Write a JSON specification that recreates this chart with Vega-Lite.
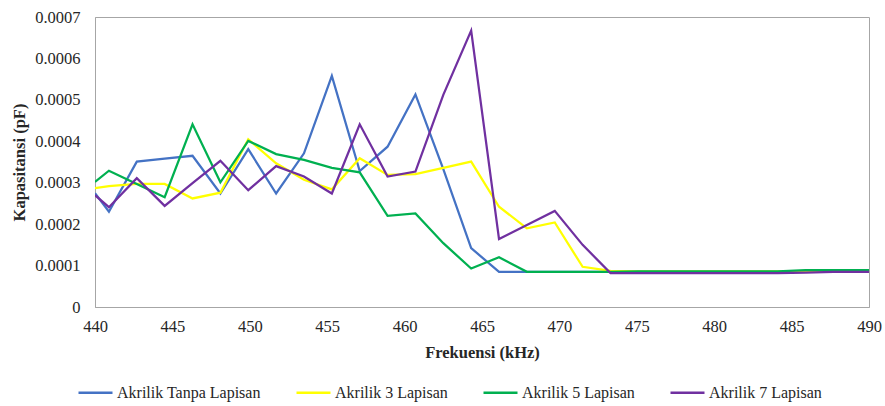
{
  "$schema": "https://vega.github.io/schema/vega-lite/v6.json",
  "width": 774,
  "height": 290,
  "autosize": {"type": "none"},
  "padding": {"left": 95, "top": 17, "right": 16, "bottom": 99},
  "background": "white",
  "config": {
    "font": "Liberation Serif, serif",
    "view": {"stroke": "#A6A6A6", "strokeWidth": 1},
    "style": {
      "guide-label": {"font": "Liberation Serif, serif", "fontSize": 16.5, "fill": "#262626"},
      "guide-title": {"font": "Liberation Serif, serif", "fontSize": 16.5, "fontWeight": "bold", "fill": "#262626"}
    },
    "axis": {
      "grid": false,
      "ticks": false,
      "labelFlush": false,
      "labelOverlap": false,
      "domainColor": "#A6A6A6"
    },
    "legend": {
      "labelFont": "Liberation Serif, serif",
      "labelFontSize": 16,
      "labelColor": "#262626"
    }
  },
  "data": {
    "values": [
      {"f": 440, "v": 0.000275, "s": "Akrilik Tanpa Lapisan"},
      {"f": 440.9, "v": 0.00023, "s": "Akrilik Tanpa Lapisan"},
      {"f": 442.7, "v": 0.000351, "s": "Akrilik Tanpa Lapisan"},
      {"f": 444.5, "v": 0.000358, "s": "Akrilik Tanpa Lapisan"},
      {"f": 446.3, "v": 0.000365, "s": "Akrilik Tanpa Lapisan"},
      {"f": 448.1, "v": 0.000274, "s": "Akrilik Tanpa Lapisan"},
      {"f": 449.9, "v": 0.000381, "s": "Akrilik Tanpa Lapisan"},
      {"f": 451.7, "v": 0.000274, "s": "Akrilik Tanpa Lapisan"},
      {"f": 453.5, "v": 0.000371, "s": "Akrilik Tanpa Lapisan"},
      {"f": 455.3, "v": 0.000558, "s": "Akrilik Tanpa Lapisan"},
      {"f": 457.1, "v": 0.000328, "s": "Akrilik Tanpa Lapisan"},
      {"f": 458.9, "v": 0.000387, "s": "Akrilik Tanpa Lapisan"},
      {"f": 460.7, "v": 0.000513, "s": "Akrilik Tanpa Lapisan"},
      {"f": 462.5, "v": 0.000333, "s": "Akrilik Tanpa Lapisan"},
      {"f": 464.3, "v": 0.000142, "s": "Akrilik Tanpa Lapisan"},
      {"f": 466.1, "v": 0.000085, "s": "Akrilik Tanpa Lapisan"},
      {"f": 467.9, "v": 0.000085, "s": "Akrilik Tanpa Lapisan"},
      {"f": 469.7, "v": 0.000085, "s": "Akrilik Tanpa Lapisan"},
      {"f": 471.5, "v": 0.000085, "s": "Akrilik Tanpa Lapisan"},
      {"f": 473.3, "v": 0.000085, "s": "Akrilik Tanpa Lapisan"},
      {"f": 475.1, "v": 0.000085, "s": "Akrilik Tanpa Lapisan"},
      {"f": 476.9, "v": 0.000085, "s": "Akrilik Tanpa Lapisan"},
      {"f": 478.7, "v": 0.000085, "s": "Akrilik Tanpa Lapisan"},
      {"f": 480.5, "v": 0.000085, "s": "Akrilik Tanpa Lapisan"},
      {"f": 482.3, "v": 0.000085, "s": "Akrilik Tanpa Lapisan"},
      {"f": 484.1, "v": 0.000085, "s": "Akrilik Tanpa Lapisan"},
      {"f": 485.9, "v": 0.000085, "s": "Akrilik Tanpa Lapisan"},
      {"f": 487.7, "v": 0.000086, "s": "Akrilik Tanpa Lapisan"},
      {"f": 489.5, "v": 0.000086, "s": "Akrilik Tanpa Lapisan"},
      {"f": 490, "v": 0.000086, "s": "Akrilik Tanpa Lapisan"},

      {"f": 440, "v": 0.000287, "s": "Akrilik 3 Lapisan"},
      {"f": 440.9, "v": 0.000292, "s": "Akrilik 3 Lapisan"},
      {"f": 442.7, "v": 0.000297, "s": "Akrilik 3 Lapisan"},
      {"f": 444.5, "v": 0.000297, "s": "Akrilik 3 Lapisan"},
      {"f": 446.3, "v": 0.000262, "s": "Akrilik 3 Lapisan"},
      {"f": 448.1, "v": 0.000276, "s": "Akrilik 3 Lapisan"},
      {"f": 449.9, "v": 0.000405, "s": "Akrilik 3 Lapisan"},
      {"f": 451.7, "v": 0.000347, "s": "Akrilik 3 Lapisan"},
      {"f": 453.5, "v": 0.000307, "s": "Akrilik 3 Lapisan"},
      {"f": 455.3, "v": 0.000284, "s": "Akrilik 3 Lapisan"},
      {"f": 457.1, "v": 0.000359, "s": "Akrilik 3 Lapisan"},
      {"f": 458.9, "v": 0.000319, "s": "Akrilik 3 Lapisan"},
      {"f": 460.7, "v": 0.000321, "s": "Akrilik 3 Lapisan"},
      {"f": 462.5, "v": 0.000336, "s": "Akrilik 3 Lapisan"},
      {"f": 464.3, "v": 0.000351, "s": "Akrilik 3 Lapisan"},
      {"f": 466.1, "v": 0.000242, "s": "Akrilik 3 Lapisan"},
      {"f": 467.9, "v": 0.00019, "s": "Akrilik 3 Lapisan"},
      {"f": 469.7, "v": 0.000204, "s": "Akrilik 3 Lapisan"},
      {"f": 471.5, "v": 0.000097, "s": "Akrilik 3 Lapisan"},
      {"f": 473.3, "v": 0.000087, "s": "Akrilik 3 Lapisan"},
      {"f": 475.1, "v": 0.000086, "s": "Akrilik 3 Lapisan"},
      {"f": 476.9, "v": 0.000086, "s": "Akrilik 3 Lapisan"},
      {"f": 478.7, "v": 0.000086, "s": "Akrilik 3 Lapisan"},
      {"f": 480.5, "v": 0.000086, "s": "Akrilik 3 Lapisan"},
      {"f": 482.3, "v": 0.000086, "s": "Akrilik 3 Lapisan"},
      {"f": 484.1, "v": 0.000086, "s": "Akrilik 3 Lapisan"},
      {"f": 485.9, "v": 0.000086, "s": "Akrilik 3 Lapisan"},
      {"f": 487.7, "v": 0.000087, "s": "Akrilik 3 Lapisan"},
      {"f": 489.5, "v": 0.000087, "s": "Akrilik 3 Lapisan"},
      {"f": 490, "v": 0.000087, "s": "Akrilik 3 Lapisan"},

      {"f": 440, "v": 0.000302, "s": "Akrilik 5 Lapisan"},
      {"f": 440.9, "v": 0.000329, "s": "Akrilik 5 Lapisan"},
      {"f": 442.7, "v": 0.000297, "s": "Akrilik 5 Lapisan"},
      {"f": 444.5, "v": 0.000265, "s": "Akrilik 5 Lapisan"},
      {"f": 446.3, "v": 0.000441, "s": "Akrilik 5 Lapisan"},
      {"f": 448.1, "v": 0.000301, "s": "Akrilik 5 Lapisan"},
      {"f": 449.9, "v": 0.000401, "s": "Akrilik 5 Lapisan"},
      {"f": 451.7, "v": 0.000369, "s": "Akrilik 5 Lapisan"},
      {"f": 453.5, "v": 0.000355, "s": "Akrilik 5 Lapisan"},
      {"f": 455.3, "v": 0.000336, "s": "Akrilik 5 Lapisan"},
      {"f": 457.1, "v": 0.000325, "s": "Akrilik 5 Lapisan"},
      {"f": 458.9, "v": 0.00022, "s": "Akrilik 5 Lapisan"},
      {"f": 460.7, "v": 0.000226, "s": "Akrilik 5 Lapisan"},
      {"f": 462.5, "v": 0.000154, "s": "Akrilik 5 Lapisan"},
      {"f": 464.3, "v": 0.000093, "s": "Akrilik 5 Lapisan"},
      {"f": 466.1, "v": 0.00012, "s": "Akrilik 5 Lapisan"},
      {"f": 467.9, "v": 0.000085, "s": "Akrilik 5 Lapisan"},
      {"f": 469.7, "v": 0.000085, "s": "Akrilik 5 Lapisan"},
      {"f": 471.5, "v": 0.000085, "s": "Akrilik 5 Lapisan"},
      {"f": 473.3, "v": 0.000085, "s": "Akrilik 5 Lapisan"},
      {"f": 475.1, "v": 0.000086, "s": "Akrilik 5 Lapisan"},
      {"f": 476.9, "v": 0.000086, "s": "Akrilik 5 Lapisan"},
      {"f": 478.7, "v": 0.000086, "s": "Akrilik 5 Lapisan"},
      {"f": 480.5, "v": 0.000086, "s": "Akrilik 5 Lapisan"},
      {"f": 482.3, "v": 0.000086, "s": "Akrilik 5 Lapisan"},
      {"f": 484.1, "v": 0.000086, "s": "Akrilik 5 Lapisan"},
      {"f": 485.9, "v": 0.000089, "s": "Akrilik 5 Lapisan"},
      {"f": 487.7, "v": 0.000089, "s": "Akrilik 5 Lapisan"},
      {"f": 489.5, "v": 0.000089, "s": "Akrilik 5 Lapisan"},
      {"f": 490, "v": 0.000089, "s": "Akrilik 5 Lapisan"},

      {"f": 440, "v": 0.00027, "s": "Akrilik 7 Lapisan"},
      {"f": 440.9, "v": 0.000241, "s": "Akrilik 7 Lapisan"},
      {"f": 442.7, "v": 0.000311, "s": "Akrilik 7 Lapisan"},
      {"f": 444.5, "v": 0.000244, "s": "Akrilik 7 Lapisan"},
      {"f": 446.3, "v": 0.000299, "s": "Akrilik 7 Lapisan"},
      {"f": 448.1, "v": 0.000353, "s": "Akrilik 7 Lapisan"},
      {"f": 449.9, "v": 0.000282, "s": "Akrilik 7 Lapisan"},
      {"f": 451.7, "v": 0.00034, "s": "Akrilik 7 Lapisan"},
      {"f": 453.5, "v": 0.000315, "s": "Akrilik 7 Lapisan"},
      {"f": 455.3, "v": 0.000274, "s": "Akrilik 7 Lapisan"},
      {"f": 457.1, "v": 0.000441, "s": "Akrilik 7 Lapisan"},
      {"f": 458.9, "v": 0.000315, "s": "Akrilik 7 Lapisan"},
      {"f": 460.7, "v": 0.000327, "s": "Akrilik 7 Lapisan"},
      {"f": 462.5, "v": 0.000512, "s": "Akrilik 7 Lapisan"},
      {"f": 464.3, "v": 0.000667, "s": "Akrilik 7 Lapisan"},
      {"f": 466.1, "v": 0.000164, "s": "Akrilik 7 Lapisan"},
      {"f": 467.9, "v": 0.000198, "s": "Akrilik 7 Lapisan"},
      {"f": 469.7, "v": 0.000232, "s": "Akrilik 7 Lapisan"},
      {"f": 471.5, "v": 0.00015, "s": "Akrilik 7 Lapisan"},
      {"f": 473.3, "v": 0.000082, "s": "Akrilik 7 Lapisan"},
      {"f": 475.1, "v": 0.000082, "s": "Akrilik 7 Lapisan"},
      {"f": 476.9, "v": 0.000082, "s": "Akrilik 7 Lapisan"},
      {"f": 478.7, "v": 0.000082, "s": "Akrilik 7 Lapisan"},
      {"f": 480.5, "v": 0.000082, "s": "Akrilik 7 Lapisan"},
      {"f": 482.3, "v": 0.000082, "s": "Akrilik 7 Lapisan"},
      {"f": 484.1, "v": 0.000082, "s": "Akrilik 7 Lapisan"},
      {"f": 485.9, "v": 0.000083, "s": "Akrilik 7 Lapisan"},
      {"f": 487.7, "v": 0.000085, "s": "Akrilik 7 Lapisan"},
      {"f": 489.5, "v": 0.000085, "s": "Akrilik 7 Lapisan"},
      {"f": 490, "v": 0.000085, "s": "Akrilik 7 Lapisan"}
    ]
  },
  "mark": {"type": "line", "strokeWidth": 2.25, "clip": true},
  "encoding": {
    "x": {
      "field": "f",
      "type": "quantitative",
      "scale": {"domain": [440, 490], "nice": false, "zero": false},
      "axis": {
        "values": [440, 445, 450, 455, 460, 465, 470, 475, 480, 485, 490],
        "labelFont": "Liberation Serif, serif",
        "labelFontSize": 16.5,
        "labelColor": "#262626",
        "labelPadding": 11,
        "labelFlush": false,
        "title": "Frekuensi (kHz)",
        "titleFont": "Liberation Serif, serif",
        "titleFontSize": 16.5,
        "titleFontWeight": "bold",
        "titleColor": "#262626",
        "titleY": 45,
        "titleBaseline": "middle"
      }
    },
    "y": {
      "field": "v",
      "type": "quantitative",
      "scale": {"domain": [0, 0.0007], "nice": false},
      "axis": {
        "values": [0, 0.0001, 0.0002, 0.0003, 0.0004, 0.0005, 0.0006, 0.0007],
        "format": ".4~f",
        "labelFont": "Liberation Serif, serif",
        "labelFontSize": 16.5,
        "labelColor": "#262626",
        "labelPadding": 15,
        "labelFlush": false,
        "title": "Kapasitansi (pF)",
        "titleFont": "Liberation Serif, serif",
        "titleFontSize": 16.5,
        "titleFontWeight": "bold",
        "titleColor": "#262626",
        "titleX": -76,
        "titleY": 145,
        "titleAngle": -90,
        "titleBaseline": "middle",
        "titleAlign": "center"
      }
    },
    "color": {
      "field": "s",
      "type": "nominal",
      "sort": ["Akrilik Tanpa Lapisan", "Akrilik 3 Lapisan", "Akrilik 5 Lapisan", "Akrilik 7 Lapisan"],
      "scale": {
        "domain": ["Akrilik Tanpa Lapisan", "Akrilik 3 Lapisan", "Akrilik 5 Lapisan", "Akrilik 7 Lapisan"],
        "range": ["#4472C4", "#FFFF00", "#00B050", "#7030A0"]
      },
      "legend": {
        "title": null,
        "orient": "none",
        "direction": "horizontal",
        "columns": 4,
        "columnPadding": 30,
        "legendX": -18,
        "legendY": 357,
        "symbolType": "stroke",
        "symbolSize": 1156,
        "symbolStrokeWidth": 2.5,
        "labelOffset": 3
      }
    }
  }
}
